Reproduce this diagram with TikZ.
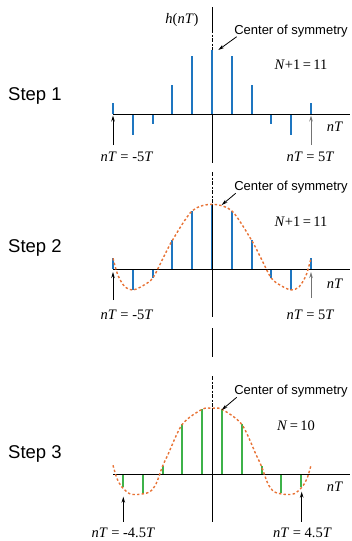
\documentclass[tikz,border=0pt]{standalone}
\usepackage{fontspec}
\setmainfont{Liberation Serif}
\newfontfamily\labelsans{Liberation Sans}
\usetikzlibrary{arrows.meta}
\definecolor{stemblue}{RGB}{30,118,192}
\definecolor{stemgreen}{RGB}{62,178,74}
\definecolor{curveorange}{RGB}{232,114,52}
\begin{document}
\begin{tikzpicture}[x=1pt, y=-1pt, every node/.style={inner sep=0pt}]
  \tikzstyle{axisline}=[black, line width=0.9pt]
  \tikzstyle{symline}=[black, line width=0.9pt, dash pattern=on 4pt off 1.5pt on 2pt off 1.5pt]
  \tikzstyle{stemA}=[stemblue, line width=2pt]
  \tikzstyle{stemB}=[stemgreen, line width=2pt]
  \tikzstyle{envelope}=[curveorange, line width=1.4pt, dash pattern=on 2.4pt off 2.2pt]
  \tikzstyle{steplabel}=[font=\labelsans\fontsize{18.5}{20}\selectfont, anchor=base west]
  \tikzstyle{callout}=[font=\labelsans\fontsize{13}{15}\selectfont]
  \tikzstyle{mathlabel}=[font=\fontsize{14.5}{16}\selectfont]
  \tikzstyle{marker}=[-{Stealth[length=6pt,width=3.5pt]}, line width=0.8pt]
  \useasboundingbox (0,0) rectangle (351,541);

  % step 1
  \node[steplabel] (step1) at (8,100) {Step 1};
  \foreach \n/\h in {0/64.5,1/58.5,-1/58.5,2/29,-2/29,3/-10,-3/-10,4/-21,-4/-21,5/11,-5/11}
    \draw[stemA] (212+19.8*\n,114.3) -- ++(0,-\h);
  \draw[axisline] (113,114.3) -- (350,114.3);
  \draw[axisline] (212,7) -- (212,29);
  \draw[symline] (212,29) -- (212,50);
  \draw[axisline] (212,114.3) -- (212,163);
  \node[mathlabel] (h1) at (182,20) {\textit{h}(\textit{nT})};
  \node[callout] (cos1) at (291,31) {Center of symmetry};
  \node[mathlabel] (count1) at (301,65) {\textit{N}+1\,=\,11};
  \node[mathlabel] (nt1) at (335,127) {\textit{nT}};
  \node[mathlabel] (lo1) at (127,156.5) {\textit{nT} = -5\textit{T}};
  \node[mathlabel] (hi1) at (310.5,156.5) {\textit{nT} = 5\textit{T}};
  \coordinate (cosTail1) at (236.7,36.7);
  \coordinate (cosTip1) at (218.3,50);
  \coordinate (loTail1) at (113,145);
  \coordinate (loTip1) at (113,115.5);
  \coordinate (hiTail1) at (311,145);
  \coordinate (hiTip1) at (311,115.5);
  \draw[marker] (cosTail1) -- (cosTip1);
  \draw[marker] (loTail1) -- (loTip1);
  \draw[marker, black!55] (hiTail1) -- (hiTip1);

  % step 2
  \node[steplabel] (step2) at (8,252.3) {Step 2};
  \draw[symline] (212,172) -- (212,204);
  \foreach \n/\h in {0/65,1/58.5,-1/58.5,2/29,-2/29,3/-9,-3/-9,4/-20.5,-4/-20.5,5/11,-5/11}
    \draw[stemA] (212+19.8*\n,269.3) -- ++(0,-\h);
  \draw[axisline] (113,269.3) -- (350,269.3);
  \draw[axisline] (212,204) -- (212,317);
  \begin{scope}[shift={(212,269.3)}, x=19.8pt, y=1pt]
    \draw[envelope] plot[smooth] coordinates {(-5,11) (-4.75,-6) (-4.4,-17.5) (-4,-20.7) (-3.5,-16.5) (-3,-9) (-2.5,10) (-2,29) (-1,58.5) (0,65) (1,58.5) (2,29) (2.5,10) (3,-9) (3.5,-16.5) (4,-20.7) (4.4,-17.5) (4.75,-6) (5,11)};
  \end{scope}
  \node[callout] (cos2) at (291,186.7) {Center of symmetry};
  \node[mathlabel] (count2) at (301,221.7) {\textit{N}+1\,=\,11};
  \node[mathlabel] (nt2) at (335,283.3) {\textit{nT}};
  \node[mathlabel] (lo2) at (127,315) {\textit{nT} = -5\textit{T}};
  \node[mathlabel] (hi2) at (310.5,315) {\textit{nT} = 5\textit{T}};
  \coordinate (cosTail2) at (235.7,193.3);
  \coordinate (cosTip2) at (221.7,205);
  \coordinate (loTail2) at (113,300);
  \coordinate (loTip2) at (113,272);
  \coordinate (hiTail2) at (311,298);
  \coordinate (hiTip2) at (311,272);
  \draw[marker] (cosTail2) -- (cosTip2);
  \draw[marker] (loTail2) -- (loTip2);
  \draw[marker, black!55] (hiTail2) -- (hiTip2);

  % step 3
  \node[steplabel] (step3) at (8,458.3) {Step 3};
  \draw[axisline] (212,328) -- (212,357);
  \draw[symline] (212,376) -- (212,408);
  \foreach \n/\h in {0.5/65,-0.5/65,1.5/50,-1.5/50,2.5/8,-2.5/8,3.5/-19,-3.5/-19,4.5/-12.5,-4.5/-12.5}
    \draw[stemB] (212+19.8*\n,474.3) -- ++(0,-\h);
  \draw[axisline] (113,474.3) -- (350,474.3);
  \draw[axisline] (212,408) -- (212,522);
  \begin{scope}[shift={(212,474.3)}, x=19.8pt, y=1pt]
    \draw[envelope] plot[smooth] coordinates {(-5,9) (-4.8,-4.3) (-4.55,-12.7) (-4.17,-19.3) (-3.75,-20.2) (-3.16,-17.7) (-2.82,-9.3) (-2.5,8) (-2.24,19) (-1.5,50) (-0.5,65) (0,66) (0.5,65) (1.5,50) (2.24,19) (2.5,8) (2.82,-9.3) (3.16,-17.7) (3.75,-20.2) (4.17,-19.3) (4.55,-12.7) (4.8,-4.3) (5,9)};
  \end{scope}
  \node[callout] (cos3) at (291,390.7) {Center of symmetry};
  \node[mathlabel] (count3) at (296,426) {\textit{N}\,=\,10};
  \node[mathlabel] (nt3) at (335,486.7) {\textit{nT}};
  \node[mathlabel] (lo3) at (123.3,532.5) {\textit{nT} = -4.5\textit{T}};
  \node[mathlabel] (hi3) at (302.4,532.5) {\textit{nT} = 4.5\textit{T}};
  \coordinate (cosTail3) at (236.7,397.3);
  \coordinate (cosTip3) at (221.7,410);
  \coordinate (loTail3) at (123.3,521.7);
  \coordinate (loTip3) at (123.3,496.7);
  \coordinate (hiTail3) at (301.7,521.7);
  \coordinate (hiTip3) at (301.7,491.7);
  \draw[marker] (cosTail3) -- (cosTip3);
  \draw[marker] (loTail3) -- (loTip3);
  \draw[marker] (hiTail3) -- (hiTip3);
\end{tikzpicture}
\end{document}
